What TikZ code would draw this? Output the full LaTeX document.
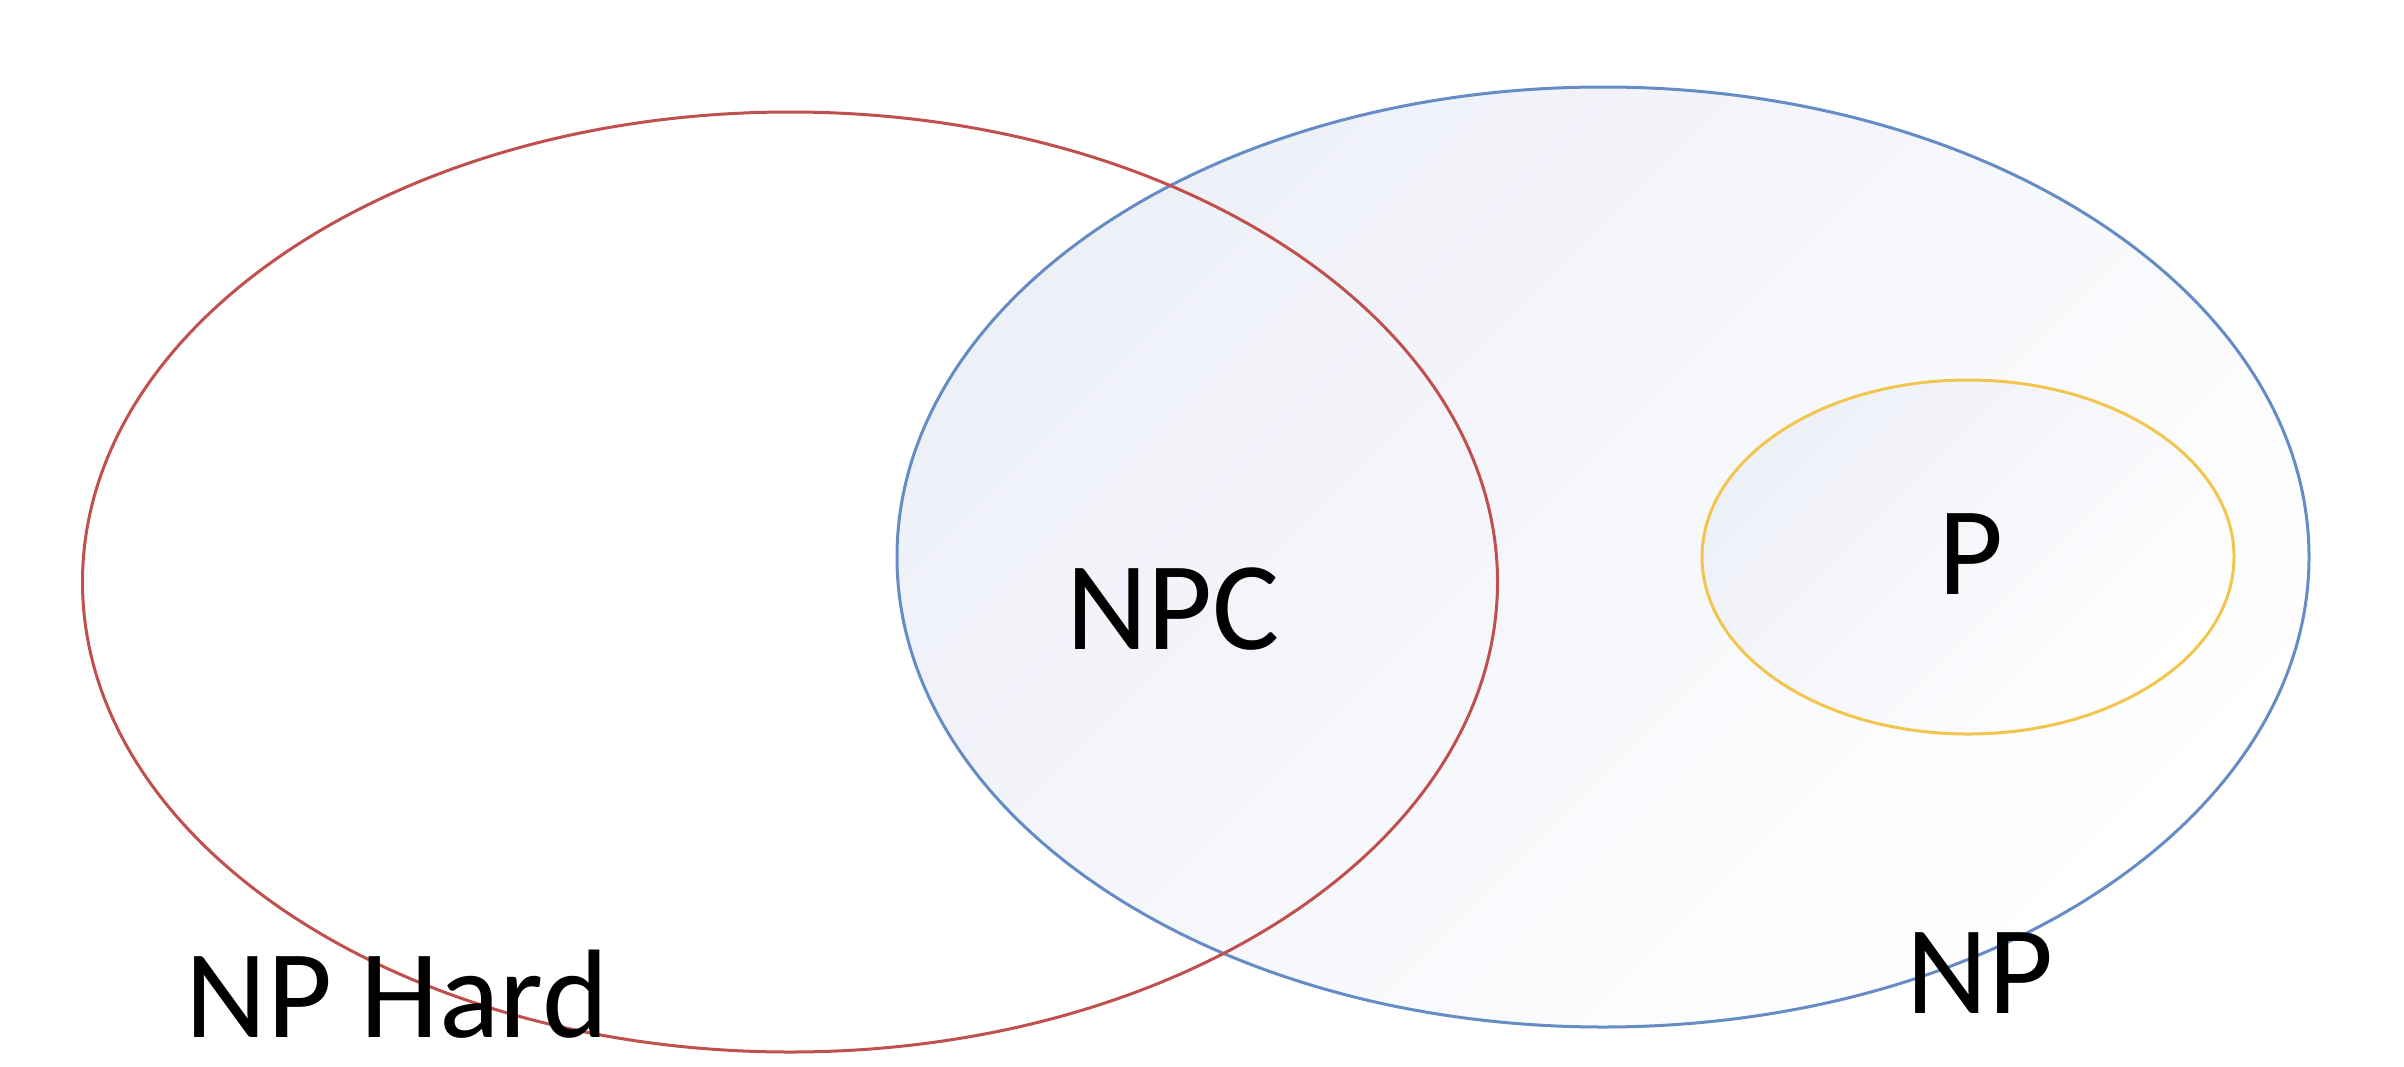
\documentclass[tikz,border=0pt]{standalone}
\usepackage{fontspec}
\setmainfont{Carlito}
\usetikzlibrary{shapes.geometric}
\definecolor{HardRed}{RGB}{192,80,77}
\definecolor{NpBlue}{RGB}{101,140,196}
\definecolor{PGold}{RGB}{242,198,78}
\definecolor{PaleFill}{RGB}{238,240,248}

\begin{document}
\begin{tikzpicture}[
    x=1pt, y=-1pt,
    set/.style={ellipse, inner sep=0pt, line width=3pt},
    shadedset/.style={set, top color=PaleFill, bottom color=white, shading angle=45},
    tag/.style={inner sep=0pt, anchor=base, font=\fontsize{126}{150}\selectfont}
  ]
    \useasboundingbox (0,0) rectangle (2404,1066);
    % the three classes
    \node[shadedset, draw=NpBlue, minimum width=1412pt, minimum height=940pt] (np) at (1603,557) {};
    \node[set, draw=HardRed, minimum width=1415pt, minimum height=940pt] (nphard) at (790,582) {};
    \node[shadedset, draw=PGold, minimum width=532pt, minimum height=354pt] (p) at (1968,557) {};

    % names
    \node[tag] (npclabel) at (1173,649) {NPC};
    \node[tag] (plabel) at (1971,594) {P};
    \node[tag] (nplabel) at (1980,1013) {NP};
    \node[tag] (nphardlabel) at (397,1037) {NP Hard};
  \end{tikzpicture}
\end{document}
